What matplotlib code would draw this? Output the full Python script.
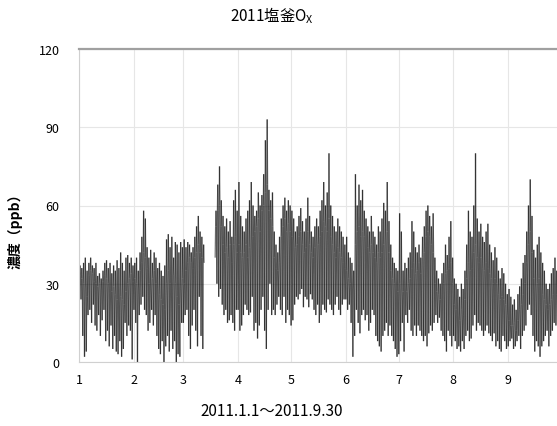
#!/usr/bin/env python3
import numpy as np
import pandas as pd
import matplotlib
import matplotlib.pyplot as plt
import matplotlib.dates as mdates
from matplotlib.collections import LineCollection

matplotlib.use('Agg')
plt.rcParams['font.family'] = ['Noto Sans CJK JP', 'DejaVu Sans']

nan = np.nan

# daily high / typical / low Ox values (ppb)
HI_JAN = [37, 36, 38, 40, 35, 38, 40, 37, 36, 38, 33, 34, 32, 35, 38, 39,
          36, 38, 34, 37, 35, 39, 36, 42, 38, 35, 40, 41, 38, 40, 37]
MID_JAN = [33, 32, 30, 28, 25, 33, 35, 34, 31, 30, 29, 30, 28, 31, 33, 32,
           30, 28, 27, 29, 26, 24, 23, 25, 24, 22, 27, 30, 32, 34, 31]
LO_JAN = [26, 24, 10, 2, 4, 18, 20, 15, 22, 14, 12, 18, 10, 16, 20, 8,
          12, 6, 14, 5, 10, 4, 3, 8, 2, 5, 15, 10, 14, 12, 1]

HI_FEB = [38, 40, 35, 42, 48, 58, 55, 44, 40, 43, 38, 42, 40, 36, 38, 35,
          33, 37, 47, 49, 44, 48, 40, 46, 45, 42, 46, 44]
MID_FEB = [32, 30, 28, 35, 38, 42, 40, 36, 30, 28, 32, 35, 30, 28, 26, 24,
           22, 20, 30, 35, 30, 28, 33, 30, 25, 22, 28, 32]
LO_FEB = [20, 15, 0, 18, 22, 25, 20, 18, 12, 15, 20, 14, 18, 10, 5, 3,
          8, 0, 6, 10, 4, 12, 5, 8, 0, 3, 2, 15]

# no data 3/12 - 3/18
HI_MAR = [47, 44, 46, 45, 42, 44, 48, 52, 56, 50, 48, 45,
          nan, nan, nan, nan, nan, nan,
          58, 68, 75, 62, 56, 52, 55, 50, 54, 48, 62, 66, 58]
MID_MAR = [30, 35, 38, 40, 38, 36, 40, 42, 45, 42, 40, 38,
           nan, nan, nan, nan, nan, nan,
           52, 58, 60, 52, 45, 42, 44, 40, 45, 38, 45, 48, 42]
LO_MAR = [15, 18, 20, 10, 5, 14, 20, 12, 6, 25, 10, 5,
          nan, nan, nan, nan, nan, nan,
          40, 30, 25, 28, 22, 18, 20, 15, 16, 18, 15, 12, 20]

HI_APR = [69, 56, 52, 50, 55, 58, 62, 69, 60, 56, 58, 65, 60, 64, 72, 85,
          93, 66, 62, 65, 50, 45, 42, 48, 55, 60, 63, 58, 62, 60]
MID_APR = [45, 42, 40, 42, 45, 40, 44, 46, 48, 50, 52, 55, 50, 58, 60, 65,
           68, 58, 55, 52, 40, 36, 35, 38, 48, 52, 55, 50, 53, 50]
LO_APR = [20, 12, 14, 18, 22, 20, 18, 19, 25, 12, 15, 9, 14, 20, 25, 12,
          5, 20, 30, 18, 20, 18, 22, 25, 20, 18, 25, 15, 20, 18]

HI_MAY = [58, 55, 50, 52, 56, 59, 54, 50, 55, 63, 56, 50, 48, 52, 55, 52,
          58, 62, 69, 60, 65, 80, 60, 56, 52, 50, 55, 52, 50, 48, 45]
MID_MAY = [48, 46, 44, 45, 48, 50, 45, 42, 44, 50, 45, 42, 40, 44, 46, 45,
           48, 50, 54, 52, 50, 55, 48, 45, 42, 40, 44, 42, 40, 38, 36]
LO_MAY = [14, 16, 22, 25, 24, 26, 28, 21, 25, 24, 21, 26, 24, 20, 18, 22,
          15, 18, 22, 20, 19, 24, 22, 20, 18, 22, 25, 20, 18, 22, 24]

HI_JUN = [48, 42, 40, 38, 35, 72, 60, 68, 62, 66, 58, 55, 52, 50, 56, 50,
          48, 45, 52, 50, 55, 61, 58, 69, 54, 45, 40, 38, 36, 35]
MID_JUN = [35, 32, 30, 28, 28, 45, 50, 52, 48, 50, 48, 46, 44, 42, 45, 42,
           40, 38, 42, 40, 42, 45, 46, 50, 42, 35, 32, 30, 28, 27]
LO_JUN = [24, 20, 22, 15, 2, 10, 20, 15, 11, 18, 20, 16, 18, 12, 15, 20,
          18, 10, 8, 6, 4, 10, 12, 15, 10, 14, 10, 8, 5, 2]

HI_JUL = [57, 50, 35, 38, 36, 40, 42, 54, 50, 44, 42, 45, 40, 48, 52, 58,
          60, 56, 52, 57, 40, 35, 32, 30, 34, 38, 45, 41, 48, 54, 40]
MID_JUL = [30, 28, 27, 28, 27, 30, 32, 36, 38, 34, 35, 38, 34, 40, 42, 48,
           50, 48, 45, 42, 30, 27, 26, 24, 28, 30, 34, 35, 36, 38, 30]
LO_JUL = [3, 8, 15, 4, 18, 15, 20, 12, 10, 14, 10, 14, 12, 10, 8, 10,
          6, 11, 14, 12, 15, 18, 15, 17, 12, 10, 8, 4, 12, 10, 6]

HI_AUG = [32, 30, 28, 25, 30, 28, 35, 45, 58, 50, 48, 60, 80, 55, 50, 53,
          48, 46, 50, 53, 45, 42, 39, 44, 40, 35, 32, 36, 34, 30, 26]
MID_AUG = [22, 20, 18, 16, 20, 18, 24, 32, 38, 35, 36, 42, 45, 40, 38, 40,
           36, 35, 38, 36, 34, 32, 30, 32, 30, 26, 24, 25, 24, 22, 18]
LO_AUG = [10, 8, 5, 6, 4, 8, 5, 10, 12, 8, 9, 14, 18, 12, 15, 14,
          12, 10, 12, 14, 11, 10, 8, 11, 6, 8, 5, 4, 10, 8, 5]

HI_SEP = [28, 25, 22, 24, 20, 26, 29, 32, 38, 41, 50, 60, 70, 56, 43, 40,
          45, 48, 42, 38, 35, 30, 28, 30, 34, 36, 40, 35, 32, 30]
MID_SEP = [16, 14, 14, 15, 12, 16, 20, 22, 26, 30, 38, 45, 50, 42, 32, 28,
           30, 32, 28, 26, 24, 22, 20, 22, 24, 26, 28, 26, 24, 22]
LO_SEP = [6, 8, 9, 5, 6, 8, 10, 5, 10, 12, 14, 20, 22, 18, 10, 4,
          8, 6, 2, 6, 8, 10, 12, 6, 10, 12, 15, 14, 12, 10]

hi = np.array(HI_JAN + HI_FEB + HI_MAR + HI_APR + HI_MAY + HI_JUN
              + HI_JUL + HI_AUG + HI_SEP, dtype=float)
mid = np.array(MID_JAN + MID_FEB + MID_MAR + MID_APR + MID_MAY + MID_JUN
               + MID_JUL + MID_AUG + MID_SEP, dtype=float)
lo = np.array(LO_JAN + LO_FEB + LO_MAR + LO_APR + LO_MAY + LO_JUN
              + LO_JUL + LO_AUG + LO_SEP, dtype=float)

days = pd.date_range("2011-01-01", periods=len(hi), freq="D")

# one low (morning), typical, high (afternoon), typical per day
times = []
values = []
for d, h, m, l in zip(days, hi, mid, lo):
    for hour, v in ((3, l), (9, m), (14, h), (20, m)):
        times.append(d + pd.Timedelta(hours=hour))
        values.append(v)
xs = mdates.date2num(pd.DatetimeIndex(times).to_pydatetime())
values = np.array(values)

# separate segments so that overlapping strokes darken like the original
pts = np.column_stack([xs, values])
segs = np.stack([pts[:-1], pts[1:]], axis=1)
ok = ~np.isnan(segs).any(axis=(1, 2))
segs = segs[ok]

fig = plt.figure(figsize=(5.57, 4.27), dpi=100)
ax = fig.add_axes([79 / 557, 64 / 427, 482 / 557, 313 / 427])

lc = LineCollection(segs, colors='black', linewidths=0.9, alpha=0.55)
ax.add_collection(lc)

ax.xaxis_date()
ax.set_xlim(pd.Timestamp("2011-01-01"), pd.Timestamp("2011-10-01"))
ax.set_ylim(0, 120)
ax.set_yticks([0, 30, 60, 90, 120])
ax.xaxis.set_major_locator(mdates.MonthLocator(bymonth=range(1, 10)))
ax.xaxis.set_major_formatter(
    plt.FuncFormatter(lambda x, pos: str(mdates.num2date(x).month)))

ax.grid(True, color='#e6e6e6', linewidth=0.8)
ax.set_axisbelow(True)
ax.tick_params(length=0, labelsize=9, colors='black')
ax.tick_params(axis='y', pad=14)
ax.tick_params(axis='x', pad=8)

for side in ('left', 'bottom', 'right'):
    ax.spines[side].set_color('#d0d0d0')
    ax.spines[side].set_linewidth(0.8)
ax.spines['top'].set_color('#a0a0a0')
ax.spines['top'].set_linewidth(1.6)

fig.text(272 / 557, 1 - 16 / 427, "2011塩釜O$_\\mathregular{X}$",
         ha='center', va='center', fontsize=11)
fig.text(272 / 557, 1 - 412 / 427, "2011.1.1～2011.9.30",
         ha='center', va='center', fontsize=11)
fig.text(15 / 557, 1 - 228 / 427, "濃度（ppb）", rotation=90,
         ha='center', va='center', fontsize=10, fontweight='bold')

fig.savefig("out.png", dpi=100)
